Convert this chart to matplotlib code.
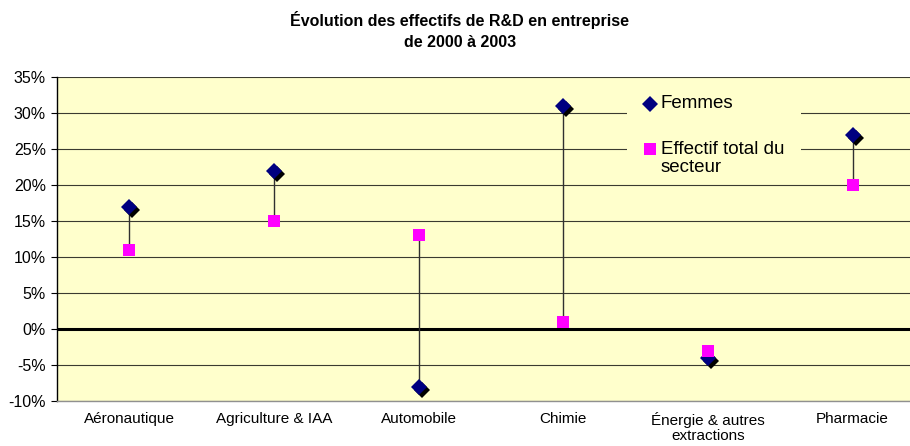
import matplotlib.pyplot as plt
import matplotlib.transforms as mtransforms
from matplotlib.patches import Rectangle
from matplotlib.ticker import FuncFormatter

plt.rcParams['font.family'] = ['Liberation Sans', 'DejaVu Sans']

secteurs = ['Aéronautique', 'Agriculture & IAA', 'Automobile', 'Chimie',
            'Énergie & autres\nextractions', 'Pharmacie']
femmes = [17, 22, -8, 31, -4, 27]
effectif_total = [11, 15, 13, 1, -3, 20]
yticks = list(range(-10, 40, 5))

W, H = 910, 446


def px(xp, yp):
    # pixel position (from top-left) -> figure fraction
    return xp / W, 1 - yp / H


fig = plt.figure(figsize=(W / 100, H / 100), dpi=100)
# plot area runs past the right edge of the picture, as in the original
ax = fig.add_axes([57 / W, 45 / H, 868 / W, 324 / H])
ax.set_facecolor('#FFFFCC')

x = list(range(len(secteurs)))

for y in yticks:
    if y == 0:
        ax.axhline(y, color='black', lw=2.2, zorder=1)
    else:
        ax.axhline(y, color='#3a3a30', lw=0.8, zorder=1)

ax.vlines(x, effectif_total, femmes, color='#303030', lw=1, zorder=2)

shadow = mtransforms.offset_copy(ax.transData, fig=fig, x=3, y=-3, units='dots')
ax.plot(x, femmes, 'D', color='black', markersize=7.8, markeredgewidth=0,
        transform=shadow, zorder=3)
ax.plot(x, femmes, 'D', color='#000080', markersize=7.8, markeredgewidth=0, zorder=4)
ax.plot(x, effectif_total, 's', color='#FF00FF', markersize=8.4,
        markeredgewidth=0, zorder=4)

ax.set_xlim(-0.5, len(secteurs) - 0.5)
ax.set_ylim(-10, 35)
ax.set_yticks(yticks)
ax.yaxis.set_major_formatter(FuncFormatter(lambda v, p: f'{v:.0f}%'))
ax.set_xticks(x)
ax.set_xticklabels(secteurs, linespacing=1.1)
ax.tick_params(axis='x', length=0, pad=8, labelsize=11)
ax.tick_params(axis='y', length=4, width=0.8, pad=4, labelsize=11.5)

for s in ['top', 'right']:
    ax.spines[s].set_visible(False)
ax.spines['left'].set_color('black')
ax.spines['left'].set_linewidth(1)
ax.spines['bottom'].set_color('#909090')
ax.spines['bottom'].set_linewidth(1)

# legend, drawn by hand so the square sits on the first line of its label
x0, y0 = px(627, 178)
x1, y1 = px(801, 86)
fig.patches.append(Rectangle((x0, y0), x1 - x0, y1 - y0, transform=fig.transFigure,
                             facecolor='#FFFFCC', edgecolor='none', zorder=5))
mx, my = px(650, 104)
fig.add_artist(plt.Line2D([mx], [my], marker='D', color='#000080', markersize=7.8,
                          markeredgewidth=0, transform=fig.transFigure, zorder=6))
fig.text(*px(661, 104), 'Femmes', ha='left', va='center', fontsize=13.5, zorder=6)
mx, my = px(650, 149)
fig.add_artist(plt.Line2D([mx], [my], marker='s', color='#FF00FF', markersize=8.4,
                          markeredgewidth=0, transform=fig.transFigure, zorder=6))
fig.text(*px(661, 141), 'Effectif total du\nsecteur', ha='left', va='top',
         fontsize=13.5, linespacing=1.1, zorder=6)

fig.text(*px(460, 30.5),
         'Évolution des effectifs de R&D en entreprise\nde 2000 à 2003',
         ha='center', va='center', fontsize=11.5, fontweight='bold', linespacing=1.55)

fig.savefig('out.png', dpi=100)
